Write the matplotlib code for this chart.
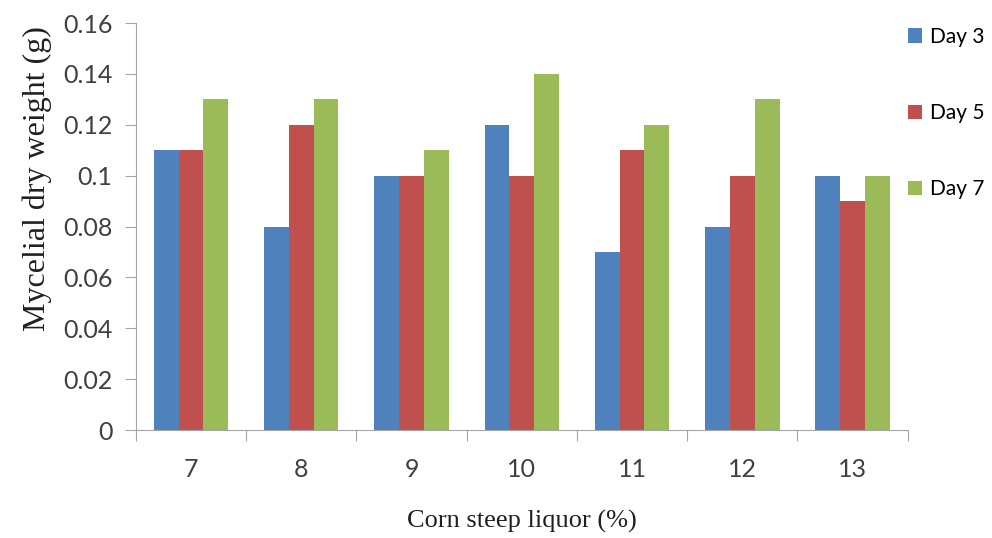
import numpy as np
import matplotlib.pyplot as plt

categories = ["7", "8", "9", "10", "11", "12", "13"]
day3 = [0.11, 0.08, 0.10, 0.12, 0.07, 0.08, 0.10]
day5 = [0.11, 0.12, 0.10, 0.10, 0.11, 0.10, 0.09]
day7 = [0.13, 0.13, 0.11, 0.14, 0.12, 0.13, 0.10]
series = [("Day 3", day3, "#4F81BD"), ("Day 5", day5, "#C0504D"), ("Day 7", day7, "#9BBB59")]
yticks = [0, 0.02, 0.04, 0.06, 0.08, 0.1, 0.12, 0.14, 0.16]

fig = plt.figure(figsize=(9.92, 5.38), dpi=100)
ax = fig.add_axes([0.137, 0.2007, 0.778, 0.7563])

x = np.arange(len(categories))
w = 0.225
for i, (name, vals, col) in enumerate(series):
    ax.bar(x + (i - 1) * w, vals, width=w, color=col, label=name, linewidth=0)

ax.set_xlim(-0.5, len(categories) - 0.5)
ax.set_ylim(0, 0.16)
ax.set_yticks(yticks)
ax.set_yticklabels([f"{v:g}" for v in yticks], family="Lato", fontsize=18, color="#404040")

# x ticks at category boundaries, labels at centers
ax.set_xticks(np.arange(-0.5, len(categories)), minor=False)
ax.set_xticklabels([])
ax.set_xticks(x, minor=True)
ax.set_xticklabels(categories, minor=True, family="Lato", fontsize=18, color="#404040")
ax.tick_params(axis="x", which="major", direction="out", length=8, color="#A6A6A6")
ax.tick_params(axis="x", which="minor", length=0, pad=20)
ax.tick_params(axis="y", direction="out", length=8, color="#A6A6A6", pad=9)

for s in ["top", "right"]:
    ax.spines[s].set_visible(False)
for s in ["left", "bottom"]:
    ax.spines[s].set_color("#A6A6A6")

fig.text(37 / 992, 1 - 179 / 538, "Mycelial dry weight (g)", family="Liberation Serif",
         fontsize=23, rotation=90, ha="center", va="center", color="#202020")
fig.text(522 / 992, 1 - 521 / 538, "Corn steep liquor (%)", family="Liberation Serif",
         fontsize=19, ha="center", va="center", color="#202020")

fig.legend(loc="upper left", bbox_to_anchor=(0.896, 0.985), frameon=False,
           prop={"family": "Lato", "size": 15}, labelspacing=2.7,
           handlelength=0.67, handleheight=0.67, handletextpad=0.4)

fig.savefig("out.png", dpi=100)
